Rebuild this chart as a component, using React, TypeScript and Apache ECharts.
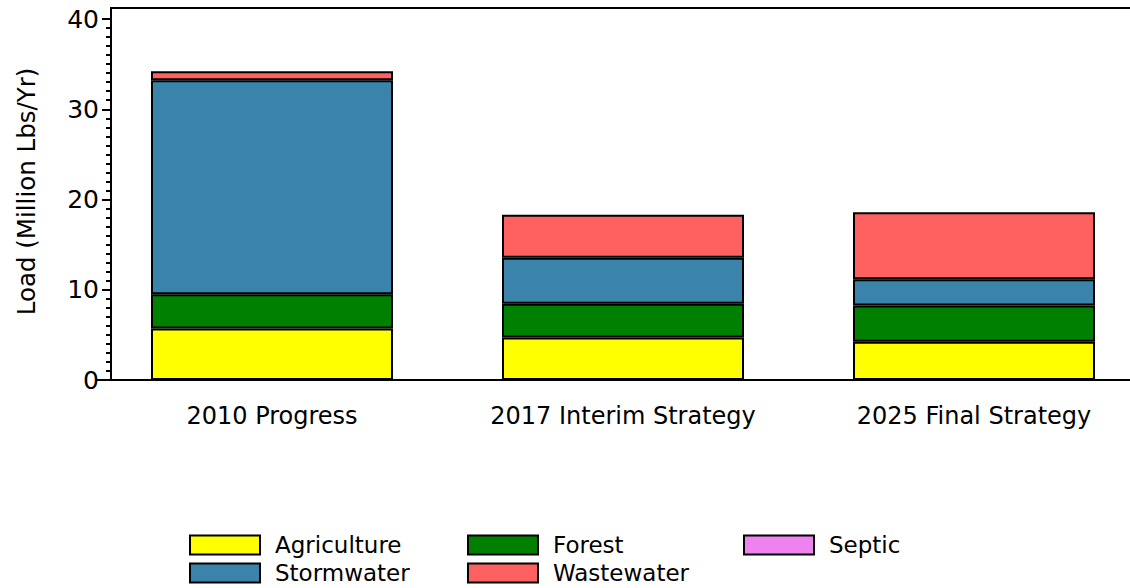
import React, { useEffect, useRef } from "react";
import * as echarts from "echarts";

const categories = ["2010 Progress", "2017 Interim Strategy", "2025 Final Strategy"];
const agriculture = [5.7, 4.7, 4.25];
const forest = [3.8, 3.75, 4.0];
const septic = [0, 0, 0];
const stormwater = [23.7, 5.1, 2.9];
const wastewater = [1.0, 4.75, 7.45];

const COLORS = {
  Agriculture: "#ffff00",
  Forest: "#008000",
  Septic: "#ee82ee",
  Stormwater: "#3a83aa",
  Wastewater: "#ff6060",
};

const FONT = "DejaVu Sans";

export default function App() {
  const ref = useRef<HTMLDivElement>(null);
  useEffect(() => {
    document.body.style.margin = "0";
    const chart = echarts.init(ref.current!, undefined, { renderer: "svg" });
    const mk = (name: string, data: number[], border = 2) => ({
      name,
      type: "bar",
      stack: "total",
      data,
      barWidth: 242,
      itemStyle: {
        color: (COLORS as any)[name],
        borderColor: "#000",
        borderWidth: border,
      },
    });
    const legendBase = {
      orient: "vertical",
      top: 533.5,
      padding: 0,
      itemWidth: 70,
      itemHeight: 19,
      itemGap: 5,
      icon: "rect",
      itemStyle: { borderColor: "#000", borderWidth: 2 },
      textStyle: {
        fontFamily: FONT,
        fontSize: 23,
        lineHeight: 22,
        color: "#000",
        padding: [0, 0, 0, 10],
      },
    };
    chart.setOption({
      animation: false,
      textStyle: { fontFamily: FONT },
      grid: { left: 96.5, width: 1053, top: 19, bottom: 208, outerBoundsMode: "none", containLabel: false },
      legend: [
        { ...legendBase, left: 189, data: ["Agriculture", "Stormwater"] },
        { ...legendBase, left: 467, data: ["Forest", "Wastewater"] },
        { ...legendBase, left: 743, data: ["Septic"] },
      ],
      xAxis: {
        type: "category",
        data: categories,
        axisLine: { lineStyle: { color: "#000", width: 2 } },
        axisTick: { show: false },
        axisLabel: {
          interval: 0,
          color: "#000",
          fontSize: 24,
          fontFamily: FONT,
          margin: 24,
        },
      },
      yAxis: {
        type: "value",
        min: 0,
        max: 40,
        interval: 10,
        offset: -14.5,
        name: "Load (Million Lbs/Yr)",
        nameLocation: "middle",
        nameGap: 72,
        nameTextStyle: { color: "#000", fontSize: 24.5, fontFamily: FONT, padding: [0, 0, 0, 16] },
        axisLine: { show: true, lineStyle: { color: "#000", width: 2 } },
        axisTick: { show: true, length: 9, lineStyle: { color: "#000", width: 2 } },
        minorTick: { show: true, splitNumber: 10, length: 5, lineStyle: { color: "#000", width: 2 } },
        splitLine: { show: false },
        axisLabel: { color: "#000", fontSize: 25, fontFamily: FONT, margin: 12 },
      },
      graphic: [
        {
          type: "polyline",
          silent: true,
          shape: { points: [[111, 19], [111, 8], [1130, 8]] },
          style: { stroke: "#000", lineWidth: 2, fill: "none" },
        },
      ],
      series: [
        mk("Agriculture", agriculture),
        mk("Forest", forest),
        mk("Septic", septic, 0),
        mk("Stormwater", stormwater),
        mk("Wastewater", wastewater),
      ],
    });
    return () => chart.dispose();
  }, []);
  return <div ref={ref} style={{ width: 1130, height: 588 }} />;
}
